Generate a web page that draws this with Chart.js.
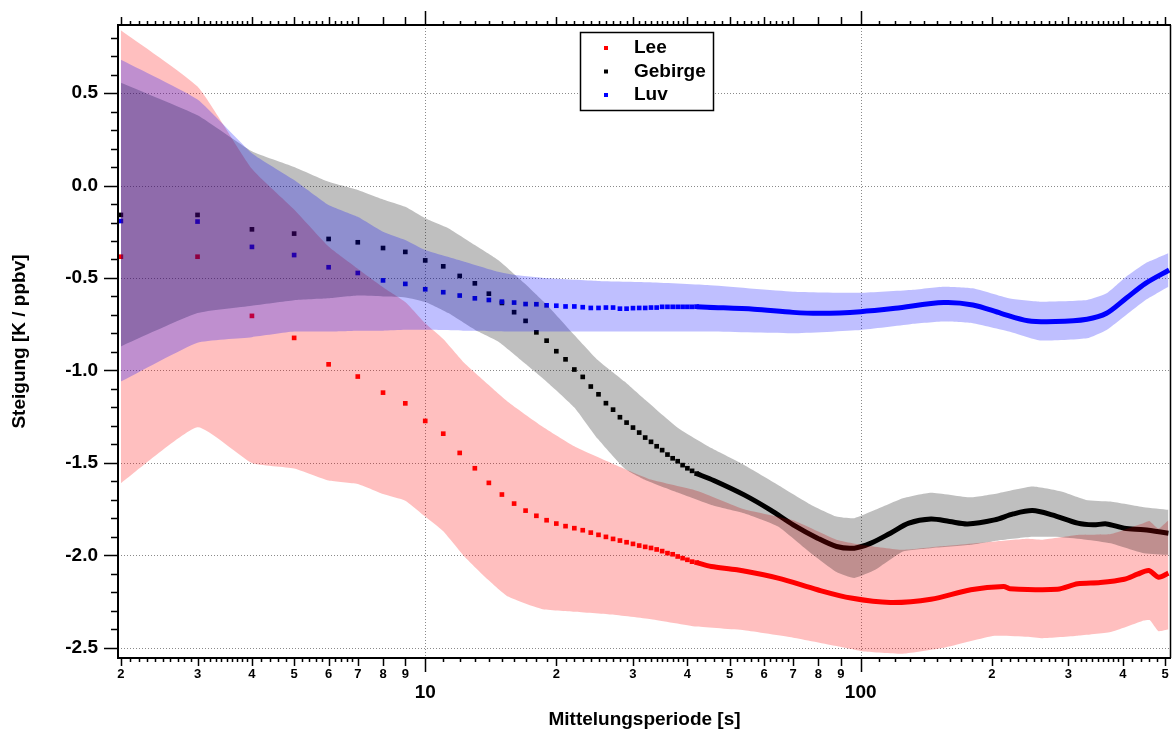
<!DOCTYPE html>
<html>
<head>
<meta charset="utf-8">
<script src="https://cdn.jsdelivr.net/npm/chart.js@4.4.0/dist/chart.umd.min.js"></script>
<style>
  html, body { margin: 0; padding: 0; background: #fff; }
  #wrap { width: 1175px; height: 731px; }
</style>
</head>
<body>
<div id="wrap"><canvas id="chart" width="1175" height="731"></canvas></div>
<script>
const FONT = "'Liberation Sans', Arial, Helvetica, sans-serif";

const seriesNames = ['Lee', 'Gebirge', 'Luv'];
const seriesColors = ['#ff0000', '#000000', '#0000ff'];
const bandColors = ['rgba(255,0,0,0.25)', 'rgba(0,0,0,0.25)', 'rgba(0,0,255,0.25)'];

// single markers (sparse part, one per averaging period)
const pointX = [2, 3, 4, 5, 6, 7, 8, 9, 10, 11, 12, 13, 14, 15, 16, 17, 18, 19, 20, 21, 22,
  23, 24, 25, 26, 27, 28, 29, 30, 31, 32, 33, 34, 35, 36, 37, 38, 39, 40, 41, 42];
const leeY = [-0.385, -0.385, -0.705, -0.824, -0.967, -1.033, -1.12, -1.178, -1.273, -1.342, -1.446,
  -1.529, -1.608, -1.671, -1.72, -1.758, -1.786, -1.81, -1.828, -1.842, -1.853,
  -1.864, -1.877, -1.889, -1.9, -1.911, -1.92, -1.929, -1.938, -1.947, -1.954,
  -1.96, -1.968, -1.977, -1.988, -1.994, -2.006, -2.015, -2.024, -2.034, -2.039];
const gebirgeY = [-0.159, -0.159, -0.237, -0.26, -0.289, -0.307, -0.338, -0.359, -0.405, -0.437, -0.489,
  -0.529, -0.585, -0.635, -0.685, -0.732, -0.794, -0.839, -0.896, -0.94, -0.995,
  -1.035, -1.087, -1.129, -1.177, -1.212, -1.253, -1.282, -1.309, -1.336, -1.363,
  -1.386, -1.41, -1.431, -1.455, -1.475, -1.491, -1.512, -1.529, -1.543, -1.558];
const luvY = [-0.192, -0.195, -0.332, -0.376, -0.442, -0.473, -0.513, -0.532, -0.561, -0.577, -0.595,
  -0.61, -0.619, -0.628, -0.633, -0.641, -0.642, -0.648, -0.65, -0.654, -0.654,
  -0.658, -0.662, -0.662, -0.66, -0.66, -0.666, -0.666, -0.663, -0.662, -0.662,
  -0.66, -0.66, -0.656, -0.656, -0.656, -0.656, -0.656, -0.656, -0.656, -0.655];

// dense part (markers merge into a line)
const leeLineX = [42, 45.4, 52, 64.6, 79.6, 95, 117, 145, 179, 213, 220, 283, 315, 355, 403, 432, 459, 483, 509];
const leeLineY = [-2.039, -2.06, -2.078, -2.123, -2.186, -2.231, -2.255, -2.237, -2.186, -2.168, -2.18,
  -2.183, -2.154, -2.147, -2.129, -2.102, -2.082, -2.118, -2.096];
const gebirgeLineX = [42, 46, 54, 62, 70, 79.6, 88, 96.7, 105.6, 117, 129, 145, 160, 176, 203, 224, 248,
  275, 315, 342, 367, 403, 447, 509];
const gebirgeLineY = [-1.558, -1.595, -1.673, -1.754, -1.835, -1.907, -1.952, -1.961, -1.934, -1.88, -1.826,
  -1.804, -1.817, -1.83, -1.808, -1.776, -1.758, -1.781, -1.826, -1.835, -1.83, -1.853, -1.862, -1.88];
const luvLineX = [42, 44.4, 56.9, 69.9, 80.9, 100, 120, 155, 181, 210, 242, 280, 331, 367, 407, 451, 511];
const luvLineY = [-0.655, -0.658, -0.669, -0.686, -0.691, -0.682, -0.664, -0.633, -0.646, -0.691, -0.731,
  -0.736, -0.723, -0.691, -0.61, -0.529, -0.457];

// uncertainty bands
const leeBandX = [2, 3, 4, 5, 6, 7, 8, 9, 10, 11, 12.3, 13.7, 15.5, 18.5, 22, 26.7, 33, 42, 54, 70, 88,
  102, 125, 155, 203, 241, 262, 315, 375, 447, 461, 483, 509];
const leeBandHi = [0.84, 0.535, 0.09, -0.13, -0.33, -0.45, -0.55, -0.63, -0.745, -0.83, -0.96, -1.06,
  -1.17, -1.3, -1.41, -1.5, -1.59, -1.65, -1.75, -1.81, -1.915, -1.945, -1.97, -1.95, -1.925, -1.91,
  -1.915, -1.89, -1.885, -1.825, -1.815, -1.855, -1.81];
const leeBandLo = [-1.61, -1.307, -1.5, -1.53, -1.595, -1.614, -1.668, -1.704, -1.79, -1.87, -2.006,
  -2.115, -2.223, -2.29, -2.305, -2.32, -2.345, -2.385, -2.405, -2.445, -2.49, -2.52, -2.532, -2.5,
  -2.435, -2.44, -2.448, -2.435, -2.415, -2.352, -2.35, -2.41, -2.4];

const gebirgeBandX = [2, 3, 4, 5, 6, 7, 8, 9, 10, 11.3, 13, 14.7, 16.9, 19.2, 22, 24.9, 28.7, 32, 38,
  45.4, 54, 64.6, 77, 88, 96.7, 108, 125, 145, 179, 207, 248, 289, 329, 375, 447, 509];
const gebirgeBandHi = [0.556, 0.38, 0.185, 0.1, 0.02, -0.024, -0.075, -0.115, -0.177, -0.231, -0.322,
  -0.403, -0.529, -0.655, -0.808, -0.943, -1.06, -1.159, -1.31, -1.42, -1.511, -1.619, -1.727, -1.79,
  -1.799, -1.754, -1.691, -1.661, -1.686, -1.664, -1.628, -1.655, -1.7, -1.709, -1.74, -1.754];
const gebirgeBandLo = [-0.87, -0.69, -0.65, -0.62, -0.61, -0.595, -0.6, -0.605, -0.63, -0.69, -0.78,
  -0.844, -0.96, -1.07, -1.2, -1.37, -1.53, -1.592, -1.66, -1.727, -1.772, -1.844, -1.99, -2.09,
  -2.122, -2.078, -1.979, -1.961, -1.943, -1.92, -1.9, -1.902, -1.915, -1.934, -1.988, -1.997];

const luvBandX = [2, 3, 4, 5, 6, 7, 8, 9, 10, 12.3, 14.7, 16.1, 19.2, 24.9, 32.5, 44.4, 69.9, 100, 130,
  155, 181, 219, 258, 331, 367, 407, 451, 509];
const luvBandHi = [0.68, 0.465, 0.175, 0.03, -0.105, -0.169, -0.25, -0.295, -0.349, -0.412, -0.466,
  -0.484, -0.502, -0.516, -0.523, -0.538, -0.574, -0.58, -0.565, -0.547, -0.556, -0.61, -0.628,
  -0.619, -0.583, -0.493, -0.42, -0.366];
const luvBandLo = [-1.06, -0.85, -0.82, -0.79, -0.79, -0.785, -0.785, -0.78, -0.78, -0.785, -0.788,
  -0.79, -0.79, -0.79, -0.79, -0.79, -0.799, -0.781, -0.75, -0.736, -0.745, -0.79, -0.838, -0.826,
  -0.781, -0.7, -0.619, -0.547];

// axes
const yTicks = [0.5, 0.0, -0.5, -1.0, -1.5, -2.0, -2.5];
const yMinorTicks = [0.8, 0.7, 0.6, 0.4, 0.3, 0.2, 0.1, -0.1, -0.2, -0.3, -0.4, -0.6, -0.7, -0.8, -0.9,
  -1.1, -1.2, -1.3, -1.4, -1.6, -1.7, -1.8, -1.9, -2.1, -2.2, -2.3, -2.4];
const xTicks = [2, 3, 4, 5, 6, 7, 8, 9, 10, 20, 30, 40, 50, 60, 70, 80, 90, 100, 200, 300, 400, 500];
const xTickLabels = ['2', '3', '4', '5', '6', '7', '8', '9', '10', '2', '3', '4', '5', '6', '7', '8', '9',
  '100', '2', '3', '4', '5'];
const xMajorTicks = [10, 100];
const xMinorTicks = [2.1, 2.2, 2.3, 2.4, 2.5, 2.6, 2.7, 2.8, 2.9, 3.1, 3.2, 3.3, 3.4, 3.5, 3.6, 3.7, 3.8, 3.9,
  4.2, 4.4, 4.6, 4.8, 5.2, 5.4, 5.6, 5.8, 6.2, 6.4, 6.6, 6.8,
  11, 12, 13, 14, 15, 16, 17, 18, 19, 21, 22, 23, 24, 25, 26, 27, 28, 29,
  31, 32, 33, 34, 35, 36, 37, 38, 39, 42, 44, 46, 48, 52, 54, 56, 58, 62, 64, 66, 68,
  110, 120, 130, 140, 150, 160, 170, 180, 190, 210, 220, 230, 240, 250, 260, 270, 280, 290,
  310, 320, 330, 340, 350, 360, 370, 380, 390, 420, 440, 460, 480];

const zip = (xs, ys) => xs.map((x, i) => ({x: x, y: ys[i]}));

// lower order is drawn later (on top): Luv band over Gebirge band over Lee band, all over the markers
function bandPair(xs, lo, hi, color, loIndex, order) {
  return [
    {label: 'lo', data: zip(xs, lo), borderWidth: 0, borderColor: 'transparent', pointRadius: 0,
      fill: false, tension: 0.15, order: order},
    {label: 'hi', data: zip(xs, hi), borderWidth: 0, borderColor: 'transparent', pointRadius: 0,
      backgroundColor: color, fill: loIndex, tension: 0.15, order: order}
  ];
}

function markerSet(name, xs, ys, color, order) {
  return {label: name, data: zip(xs, ys), showLine: false, pointStyle: 'rect', pointRadius: 3.3,
    pointBorderWidth: 0, pointBackgroundColor: color, borderColor: color, order: order};
}

function denseLine(xs, ys, color, order) {
  return {label: 'dense', data: zip(xs, ys), borderColor: color, borderWidth: 5, pointRadius: 0,
    fill: false, tension: 0.3, borderJoinStyle: 'round', order: order};
}

const datasets = [
  ...bandPair(leeBandX, leeBandLo, leeBandHi, bandColors[0], 0, 3),
  ...bandPair(gebirgeBandX, gebirgeBandLo, gebirgeBandHi, bandColors[1], 2, 2),
  ...bandPair(luvBandX, luvBandLo, luvBandHi, bandColors[2], 4, 1),
  markerSet(seriesNames[0], pointX, leeY, seriesColors[0], 6),
  denseLine(leeLineX, leeLineY, seriesColors[0], 6),
  markerSet(seriesNames[1], pointX, gebirgeY, seriesColors[1], 5),
  denseLine(gebirgeLineX, gebirgeLineY, seriesColors[1], 5),
  markerSet(seriesNames[2], pointX, luvY, seriesColors[2], 4),
  denseLine(luvLineX, luvLineY, seriesColors[2], 4)
];

// frame, dotted grid, tick marks and boxed legend
const axisDecor = {
  id: 'axisDecor',
  beforeDatasetsDraw(chart) {
    const {ctx, chartArea: a, scales: {x, y}} = chart;
    ctx.save();
    ctx.strokeStyle = '#8a8a8a';
    ctx.lineWidth = 1;
    ctx.setLineDash([1, 2]);
    ctx.beginPath();
    yTicks.forEach(v => {
      const py = Math.round(y.getPixelForValue(v)) + 0.5;
      ctx.moveTo(a.left, py); ctx.lineTo(a.right, py);
    });
    xMajorTicks.forEach(v => {
      const px = Math.round(x.getPixelForValue(v)) + 0.5;
      ctx.moveTo(px, a.top); ctx.lineTo(px, a.bottom);
    });
    ctx.stroke();
    ctx.restore();
  },
  afterDraw(chart) {
    const {ctx, chartArea: a, scales: {x, y}} = chart;
    ctx.save();
    ctx.strokeStyle = '#000';
    ctx.lineWidth = 2;
    ctx.beginPath();
    ctx.moveTo(a.left, a.top); ctx.lineTo(a.right, a.top);
    ctx.moveTo(a.left, a.top - 1); ctx.lineTo(a.left, a.bottom + 1);
    ctx.moveTo(a.left, a.bottom); ctx.lineTo(a.right, a.bottom);
    ctx.stroke();
    ctx.lineWidth = 1.5;
    ctx.beginPath();
    ctx.moveTo(a.right - 0.5, a.top); ctx.lineTo(a.right - 0.5, a.bottom);
    ctx.stroke();

    ctx.lineWidth = 1.5;
    ctx.beginPath();
    const xTick = (v, len) => {
      const px = Math.round(x.getPixelForValue(v)) + 0.5;
      ctx.moveTo(px, a.bottom); ctx.lineTo(px, a.bottom + len);
      ctx.moveTo(px, a.top); ctx.lineTo(px, a.top - len);
    };
    xMinorTicks.forEach(v => xTick(v, 4));
    xTicks.forEach(v => xTick(v, xMajorTicks.includes(v) ? 14 : 8));
    const yTick = (v, len) => {
      const py = Math.round(y.getPixelForValue(v)) + 0.5;
      ctx.moveTo(a.left, py); ctx.lineTo(a.left - len, py);
    };
    yMinorTicks.forEach(v => yTick(v, 7));
    yTicks.forEach(v => yTick(v, 14));
    ctx.stroke();

    // legend
    const lx = 580, ly = 32, lw = 133, lh = 78;
    ctx.fillStyle = '#fff';
    ctx.fillRect(lx, ly, lw, lh);
    ctx.lineWidth = 1.5;
    ctx.strokeRect(lx + 0.5, ly + 0.5, lw, lh);
    ctx.font = 'bold 19px ' + FONT;
    ctx.textBaseline = 'middle';
    ctx.textAlign = 'left';
    seriesNames.forEach((name, i) => {
      const cy = ly + 16 + i * 23.5;
      ctx.fillStyle = seriesColors[i];
      ctx.fillRect(lx + 24, cy - 2, 4, 4);
      ctx.fillStyle = '#000';
      ctx.fillText(name, lx + 54, cy);
    });
    ctx.restore();
  }
};

new Chart(document.getElementById('chart'), {
  type: 'line',
  data: {datasets: datasets},
  plugins: [axisDecor],
  options: {
    responsive: false,
    animation: false,
    devicePixelRatio: 1,
    layout: {padding: {top: 25, right: 1, left: 0, bottom: 0}},
    plugins: {
      legend: {display: false},
      tooltip: {enabled: false},
      filler: {propagate: false}
    },
    scales: {
      x: {
        type: 'logarithmic',
        min: 1.97,
        max: 516,
        grid: {display: false, drawTicks: false},
        border: {display: false},
        afterBuildTicks: s => { s.ticks = xTicks.map(v => ({value: v})); },
        afterFit: s => { s.height = 73; s.paddingLeft = 0; s.paddingRight = 0; },
        ticks: {
          autoSkip: false,
          maxRotation: 0,
          padding: 9,
          color: '#000',
          callback: (v) => xTickLabels[xTicks.indexOf(v)],
          font: (c) => {
            const v = c.tick ? c.tick.value : null;
            return xMajorTicks.includes(v)
              ? {family: FONT, size: 19, weight: 'bold', lineHeight: 2.7}
              : {family: FONT, size: 13, weight: 'bold', lineHeight: 1.2};
          }
        },
        title: {
          display: true,
          text: 'Mittelungsperiode [s]',
          color: '#000',
          font: {family: FONT, size: 19, weight: 'bold'},
          padding: {top: 0, bottom: 0}
        }
      },
      y: {
        type: 'linear',
        min: -2.555,
        max: 0.868,
        grid: {display: false, drawTicks: false},
        border: {display: false},
        afterBuildTicks: s => { s.ticks = yTicks.map(v => ({value: v})); },
        afterFit: s => { s.width = 118; s.paddingTop = 0; s.paddingBottom = 0; },
        ticks: {
          padding: 20,
          color: '#000',
          font: {family: FONT, size: 19, weight: 'bold'},
          callback: (v) => v.toFixed(1)
        },
        title: {
          display: true,
          text: 'Steigung [K / ppbv]',
          color: '#000',
          font: {family: FONT, size: 19, weight: 'bold'},
          padding: {top: 8, bottom: 0}
        }
      }
    }
  }
});
</script>
</body>
</html>
